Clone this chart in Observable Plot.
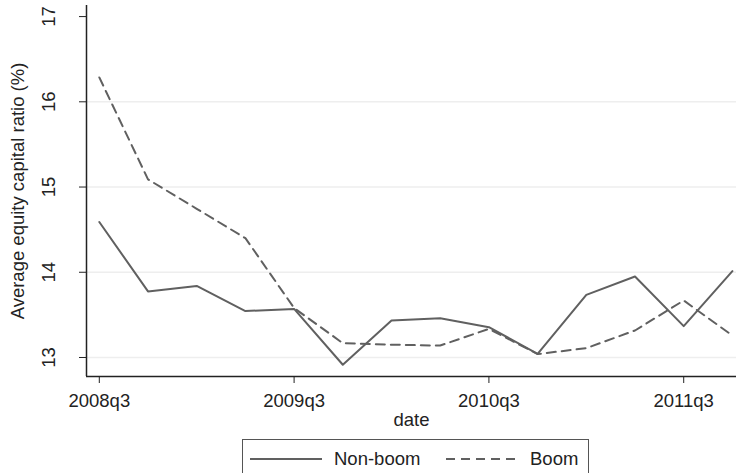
<!DOCTYPE html>
<html>
<head>
<meta charset="utf-8">
<script src="https://cdn.jsdelivr.net/npm/d3@7"></script>
<script src="https://cdn.jsdelivr.net/npm/@observablehq/plot@0.6"></script>
<style>
  html, body { margin: 0; padding: 0; background: #fff; }
  body { width: 736px; height: 473px; overflow: hidden; position: relative; font-family: "Liberation Sans", Arial, Helvetica, sans-serif; color: #222; }
  #legend { position: absolute; left: 242px; top: 439px; width: 347px; height: 50px; border: 1px solid #555; box-sizing: border-box; background: #fff; }
  .item { position: absolute; top: 8px; display: flex; align-items: center; font-size: 18.5px; }
  .item svg { margin-right: 12px; }
</style>
</head>
<body>
<div id="chart"></div>
<div id="legend">
  <div class="item" style="left:7px"><svg width="72" height="20"><line x1="0" x2="72" y1="10" y2="10" stroke="#606060" stroke-width="2"/></svg><span>Non-boom</span></div>
  <div class="item" style="left:203px"><svg width="72" height="20"><line x1="0" x2="72" y1="10" y2="10" stroke="#606060" stroke-width="2" stroke-dasharray="9,6"/></svg><span>Boom</span></div>
</div>
<script>
const quarters = ["2008q3","2008q4","2009q1","2009q2","2009q3","2009q4","2010q1","2010q2","2010q3","2010q4","2011q1","2011q2","2011q3","2011q4"];
const nonBoom = [14.59, 13.775, 13.84, 13.545, 13.57, 12.915, 13.435, 13.46, 13.355, 13.043, 13.735, 13.95, 13.368, 14.013];
const boom    = [16.286, 15.09, 14.745, 14.40, 13.58, 13.168, 13.15, 13.14, 13.336, 13.04, 13.11, 13.317, 13.669, 13.258];
const xTickIdx = [0, 4, 8, 12];
const yTicks = [13, 14, 15, 16, 17];
const yGrid = [13, 14, 15, 16];
const xDomain = [-0.263, 13.084];
const yDomain = [12.777, 17.13];

const nb = quarters.map((q, i) => ({i, q, v: nonBoom[i]}));
const bm = quarters.map((q, i) => ({i, q, v: boom[i]}));

const chart = Plot.plot({
  width: 736,
  height: 430,
  marginLeft: 86,
  marginRight: 0,
  marginTop: 5,
  marginBottom: 54,
  style: {fontFamily: '"Liberation Sans", Arial, Helvetica, sans-serif', color: "#222", background: "#fff", overflow: "visible"},
  x: {domain: xDomain},
  y: {domain: yDomain},
  marks: [
    Plot.ruleY(yGrid, {stroke: "#eeeeee", strokeWidth: 1.5}),
    Plot.line(nb, {x: "i", y: "v", stroke: "#606060", strokeWidth: 2}),
    Plot.line(bm, {x: "i", y: "v", stroke: "#606060", strokeWidth: 2, strokeDasharray: "9,6"}),
    Plot.ruleX([xDomain[0]], {stroke: "#222", strokeWidth: 1.5}),
    Plot.ruleY([yDomain[0]], {stroke: "#222", strokeWidth: 1.5}),
    Plot.axisX({ticks: xTickIdx, tickSize: 7, tickPadding: 10, tickFormat: i => quarters[i], fontSize: 18.5, label: null, stroke: "#222"}),
    Plot.axisY({ticks: yTicks, tickSize: 7, tickFormat: () => "", label: null, stroke: "#222"}),
    Plot.text(yTicks, {y: d => d, text: d => String(d), frameAnchor: "left", textAnchor: "middle", lineAnchor: "middle", dx: -37, rotate: -90, fontSize: 18.5, fill: "#222"}),
    Plot.text(["Average equity capital ratio (%)"], {text: d => d, frameAnchor: "left", textAnchor: "middle", lineAnchor: "middle", dx: -68, rotate: -90, fontSize: 18.5, fill: "#222"}),
    Plot.text(["date"], {text: d => d, frameAnchor: "bottom", dy: 49, fontSize: 18.5, fill: "#222"})
  ]
});
document.getElementById("chart").appendChild(chart);
</script>
</body>
</html>
